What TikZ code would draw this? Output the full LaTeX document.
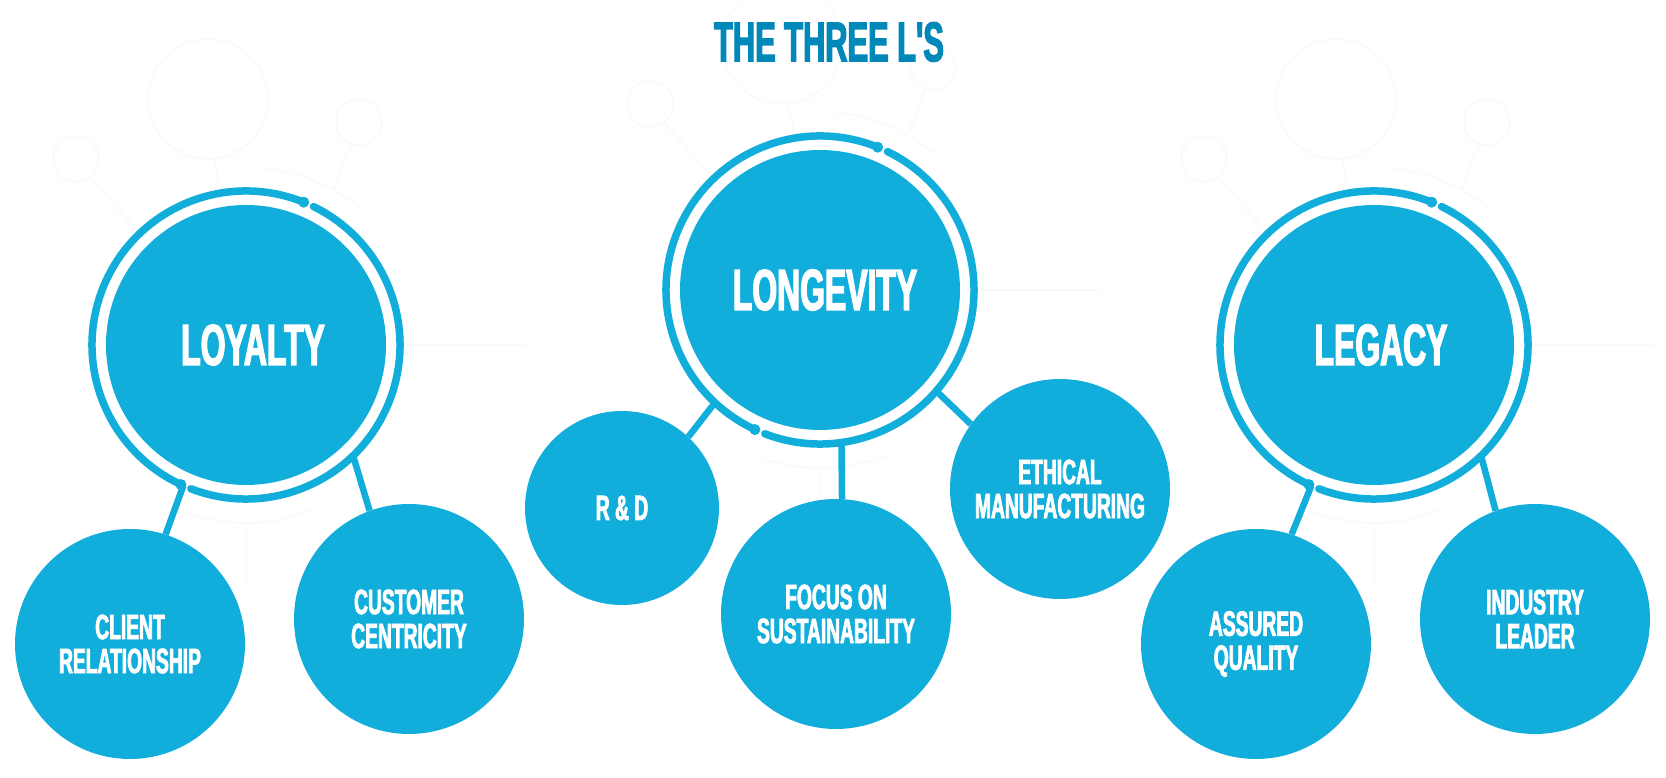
\documentclass[tikz,border=0pt]{standalone}
\usepackage{fontspec}
\newfontfamily\impactfont[FakeStretch=0.55,FakeBold=2.2,Ligatures=TeXOff]{Liberation Sans Bold}
\definecolor{lblue}{HTML}{12AEDB}
\definecolor{tblue}{HTML}{0088B9}
\definecolor{ghost}{HTML}{F6FBFD}

\begin{document}
\begin{tikzpicture}[x=1pt, y=1pt,
  hub/.style={circle, minimum size=308pt, inner sep=0pt, text=white,
    font=\impactfont\fontsize{58}{58}\selectfont,
    path picture={\fill[lblue] (path picture bounding box.center) circle[radius=140];}},
  leaf/.style={circle, fill=lblue, minimum size=#1, inner sep=0pt, text=white, align=center,
    font=\impactfont\fontsize{35}{34}\selectfont},
  leaf/.default=230pt,
  ring/.style={draw=lblue, line width=7.5pt, line cap=round},
  link/.style={draw=lblue, line width=6.5pt},
  faint/.style={draw=ghost, line width=1.5pt}]
\useasboundingbox[fill=white] (0,0) rectangle (1666,778);

\node[hub] (loyalty) at (246,433) {\hspace{14pt}LOYALTY};
\node[hub] (longevity) at (820,488) {\hspace{10pt}LONGEVITY};
\node[hub] (legacy) at (1374,433) {\hspace{14pt}LEGACY};

% faint background
\foreach \h in {loyalty,longevity,legacy}{
  \draw[faint] ([shift={(-38,246)}]\h.center) circle[radius=60];
  \draw[faint] ([shift={(-32,186)}]\h.center) -- ([shift={(-26,157)}]\h.center);
  \draw[faint] ([shift={(-170,186)}]\h.center) circle[radius=23];
  \draw[faint] ([shift={(-155,167)}]\h.center) -- ([shift={(-111,117)}]\h.center);
  \draw[faint] ([shift={(113,223)}]\h.center) circle[radius=23];
  \draw[faint] ([shift={(105,201)}]\h.center) -- ([shift={(88,155)}]\h.center);
  \draw[faint] ([shift={(50:178)}]\h.center) arc[start angle=50, end angle=85, radius=178];
  \draw[faint] ([shift={(-110:178)}]\h.center) arc[start angle=-110, end angle=-68, radius=178];
  \draw[faint] ([shift={(0,-178)}]\h.center) -- ([shift={(0,-240)}]\h.center);
  \draw[faint] ([shift={(160,0)}]\h.center) -- ([shift={(280,0)}]\h.center);
}

\node[font=\impactfont\fontsize{56}{56}\selectfont, text=tblue] (title) at (829,736) {THE THREE L'S};

\node[leaf] (client) at (130,134) {CLIENT\\RELATIONSHIP};
\node[leaf] (customer) at (409,159) {CUSTOMER\\CENTRICITY};
\node[leaf=194pt] (rd) at (622,270) {R \& D};
\node[leaf] (focus) at (836,164) {FOCUS ON\\SUSTAINABILITY};
\node[leaf=220pt] (ethical) at (1060,289) {ETHICAL\\MANUFACTURING};
\node[leaf] (assured) at (1256,134) {ASSURED\\QUALITY};
\node[leaf] (industry) at (1535,159) {INDUSTRY\\LEADER};

\foreach \h in {loyalty,longevity,legacy}{
  \draw[ring] ([shift={(68:154)}]\h.center) arc[start angle=68, end angle=245, radius=154];
  \draw[ring] ([shift={(249:154)}]\h.center) arc[start angle=249, end angle=424, radius=154];
  \fill[lblue] ([shift={(68:154)}]\h.center) circle[radius=5.5];
  \fill[lblue] ([shift={(245:154)}]\h.center) circle[radius=5.5];
}

\draw[link] (loyalty.-114) -- (client.72);
\draw[link] (loyalty.-46) -- (customer.110);
\draw[link] (longevity.-133) -- (rd.47);
\draw[link] (longevity.-82) -- (focus.87);
\draw[link] (longevity.-41) -- (ethical.144);
\draw[link] (legacy.-114) -- (assured.72);
\draw[link] (legacy.-46) -- (industry.110);
\end{tikzpicture}
\end{document}
